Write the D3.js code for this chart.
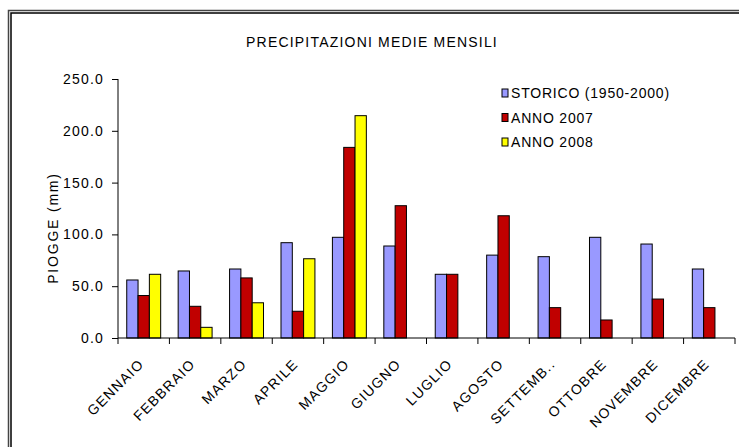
<!DOCTYPE html>
<html>
<head>
<meta charset="utf-8">
<script src="https://cdn.jsdelivr.net/npm/d3@7"></script>
<style>
body { margin:0; background:#fff; }
text { font-family: Arial, "Liberation Sans", sans-serif; fill:#000; }
</style>
</head>
<body>
<div id="chart"></div>
<script>
// dati
var mesi = ["GENNAIO","FEBBRAIO","MARZO","APRILE","MAGGIO","GIUGNO","LUGLIO","AGOSTO","SETTEMB..","OTTOBRE","NOVEMBRE","DICEMBRE"];
var serie = ["STORICO (1950-2000)","ANNO 2007","ANNO 2008"];
var storico = [56, 64.7, 66.6, 92, 97.2, 88.8, 61.5, 80, 78.5, 97.2, 90.7, 66.6];
var anno2007 = [41, 30.6, 58, 25.8, 184, 127.7, 61.5, 118, 29.3, 17.4, 37.6, 29.3];
var anno2008 = [61.5, 10.3, 34, 76.5, 214.6, null, null, null, null, null, null, null];
var yTicks = [0, 50, 100, 150, 200, 250];
var colori = ["#9999FF","#C00000","#FFFF00"];

var width = 739, height = 447;
var svg = d3.select("#chart").append("svg").attr("width",width).attr("height",height);

// cornice doppia
svg.append("rect").attr("x",8.5).attr("y",10.5).attr("width",760).attr("height",460)
  .attr("fill","none").attr("stroke","#444").attr("stroke-width",1.5);
svg.append("rect").attr("x",11).attr("y",13).attr("width",760).attr("height",460)
  .attr("fill","none").attr("stroke","#000").attr("stroke-width",1.5);

var pLeft = 118, pRight = 735, pTop = 79, pBottom = 338;

var x = d3.scaleBand().domain(mesi).range([pLeft,pRight]).padding(0);
var xs = d3.scaleBand().domain(serie).range([x.bandwidth()*0.17, x.bandwidth()*0.83]).padding(0);
var y = d3.scaleLinear().domain([0,250]).range([pBottom,pTop]);

svg.append("text").attr("x",372).attr("y",47).attr("text-anchor","middle")
  .style("font-size","14px").style("letter-spacing","1.2px")
  .text("PRECIPITAZIONI MEDIE MENSILI");

var valori = [storico, anno2007, anno2008];
var rows = [];
mesi.forEach(function(m,i){
  serie.forEach(function(s,j){
    if(valori[j][i] != null) rows.push({mese:m, serie:s, idx:j, v:valori[j][i]});
  });
});

svg.append("g").selectAll("rect").data(rows).enter().append("rect")
  .attr("x", function(d){ return x(d.mese) + xs(d.serie); })
  .attr("y", function(d){ return y(d.v); })
  .attr("width", xs.bandwidth())
  .attr("height", function(d){ return pBottom - y(d.v); })
  .attr("fill", function(d){ return colori[d.idx]; })
  .attr("stroke","#000").attr("stroke-width",1);

// asse y
var yAxis = svg.append("g").attr("transform","translate(" + pLeft + ",0)")
  .call(d3.axisLeft(y).tickValues(yTicks).tickFormat(d3.format(".1f")).tickSize(6).tickPadding(8));
yAxis.selectAll("text").style("font-size","14px").style("letter-spacing","1.2px").attr("fill","#000");
yAxis.select(".domain").attr("d","M0," + pTop + "V" + pBottom);

// asse x
var xAxis = svg.append("g").attr("transform","translate(0," + pBottom + ")");
xAxis.append("line").attr("x1",pLeft).attr("x2",pRight).attr("stroke","#000");
xAxis.selectAll(".tk").data(mesi.concat(["_fine"])).enter().append("line")
  .attr("x1", function(d,i){ return i < mesi.length ? x(d) : pRight; })
  .attr("x2", function(d,i){ return i < mesi.length ? x(d) : pRight; })
  .attr("y1",0).attr("y2",6).attr("stroke","#000");
xAxis.selectAll(".lab").data(mesi).enter().append("text")
  .attr("transform", function(d){ return "translate(" + (x(d) + x.bandwidth()/2 + 1) + ",27) rotate(-45)"; })
  .attr("text-anchor","end")
  .style("font-size","14px").style("letter-spacing","1.2px")
  .text(function(d){ return d; });

// titolo asse y
svg.append("text").attr("transform","translate(58,228) rotate(-90)")
  .attr("text-anchor","middle").style("font-size","14px").style("letter-spacing","1.8px")
  .text("PIOGGE (mm)");

// legenda
var leg = svg.append("g").selectAll("g").data(serie).enter().append("g")
  .attr("transform", function(d,i){ return "translate(502," + (93 + i*24.5) + ")"; });
leg.append("rect").attr("x",0).attr("y",-4).attr("width",6).attr("height",8)
  .attr("fill", function(d,i){ return colori[i]; }).attr("stroke","#000");
leg.append("text").attr("x",9).attr("y",5).style("font-size","14px").style("letter-spacing","0.8px")
  .text(function(d){ return d; });
</script>
</body>
</html>
